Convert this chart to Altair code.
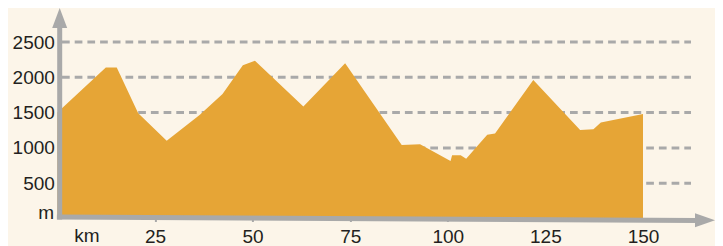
import altair as alt
import pandas as pd

# elevation profile
km = [0, 12.4, 15.2, 20.7, 28.0, 36.5, 42.3, 47.5, 50.6, 63.0, 73.7, 88.2, 92.9,
      100.7, 101.1, 103.3, 104.7, 110.1, 112.1, 121.9, 133.9, 137.3, 139.2, 149.7, 150]
elev = [1500, 2140, 2140, 1490, 1100, 1470, 1765, 2170, 2235, 1585, 2200, 1040, 1050,
        815, 895, 895, 845, 1185, 1205, 1960, 1255, 1265, 1360, 1475, 1480]

y_ticks = [500, 1000, 1500, 2000, 2500]
x_ticks = [25, 50, 75, 100, 125, 150]

BG = "#fcf5e9"
AREA = "#e6a536"
GRAY = "#a9a9a9"
TXT = "#231f20"
FONT = "Liberation Sans"

PADL = 49.4
W, H = 657.6, 210.5
XMAX = W / 3.904
YMAX = H / 0.0706

df = pd.DataFrame({"km": km, "elev": elev})
grid_df = pd.DataFrame({"g": y_ticks})
one = pd.DataFrame({"k": [0]})

xs = alt.Scale(domain=[0, XMAX], nice=False, zero=False)
ys = alt.Scale(domain=[0, YMAX], nice=False, zero=False)

area = alt.Chart(df).mark_area(color=AREA, opacity=1).encode(
    x=alt.X("km:Q", scale=xs,
            axis=alt.Axis(values=x_ticks, title=None, domain=False, grid=False,
                          tickSize=3, tickWidth=2, tickColor=GRAY,
                          labelPadding=6, labelFontSize=19, labelFont=FONT,
                          labelColor=TXT, format="d")),
    y=alt.Y("elev:Q", scale=ys,
            axis=alt.Axis(values=y_ticks, title=None, domain=False, grid=False,
                          ticks=False, tickSize=0, labelPadding=3, format="d",
                          labelFontSize=19, labelFont=FONT, labelColor=TXT)),
)

grid = alt.Chart(grid_df).mark_rule(color=GRAY, strokeWidth=3, strokeDash=[7.7, 5]).encode(
    y=alt.Y("g:Q", scale=ys),
    x=alt.value(4.6), x2=alt.value(633.6),
)

yaxis = alt.Chart(one).mark_rule(color=GRAY, strokeWidth=5).encode(
    x=alt.value(2.3), y=alt.value(18), y2=alt.value(211.5)
)
xaxis = alt.Chart(one).mark_rule(color=GRAY, strokeWidth=5).encode(
    x=alt.value(-0.5), x2=alt.value(W - 18), y=alt.value(209), y2=alt.value(212.5)
)
yarrow = alt.Chart(one).mark_point(
    shape="M-0.75,1 L0,-1 L0.75,1 Z", filled=True, color=GRAY, opacity=1,
    size=400, strokeWidth=0
).encode(x=alt.value(2.3), y=alt.value(10))
xarrow = alt.Chart(one).mark_point(
    shape="M-1,-0.7 L1,0 L-1,0.7 Z", filled=True, color=GRAY, opacity=1,
    size=400, strokeWidth=0
).encode(x=alt.value(W - 10), y=alt.value(212.3))

m_lbl = alt.Chart(one).mark_text(
    text="m", align="right", baseline="middle", fontSize=19, font=FONT, color=TXT,
    fontWeight="normal"
).encode(x=alt.value(-3.4), y=alt.value(205))
km_lbl = alt.Chart(one).mark_text(
    text="km", align="center", baseline="middle", fontSize=19, font=FONT, color=TXT,
    fontWeight="normal"
).encode(x=alt.value(29.6), y=alt.value(228))

chart = alt.layer(grid, area, yaxis, xaxis, yarrow, xarrow, m_lbl, km_lbl).properties(
    width=W, height=H, background=BG,
    autosize=alt.AutoSizeParams(type="none"),
    padding={"left": PADL, "top": 0, "right": 0, "bottom": 28},
).configure_view(stroke=None)

chart.save("out.html", embed_options={"renderer": "svg", "actions": False})
